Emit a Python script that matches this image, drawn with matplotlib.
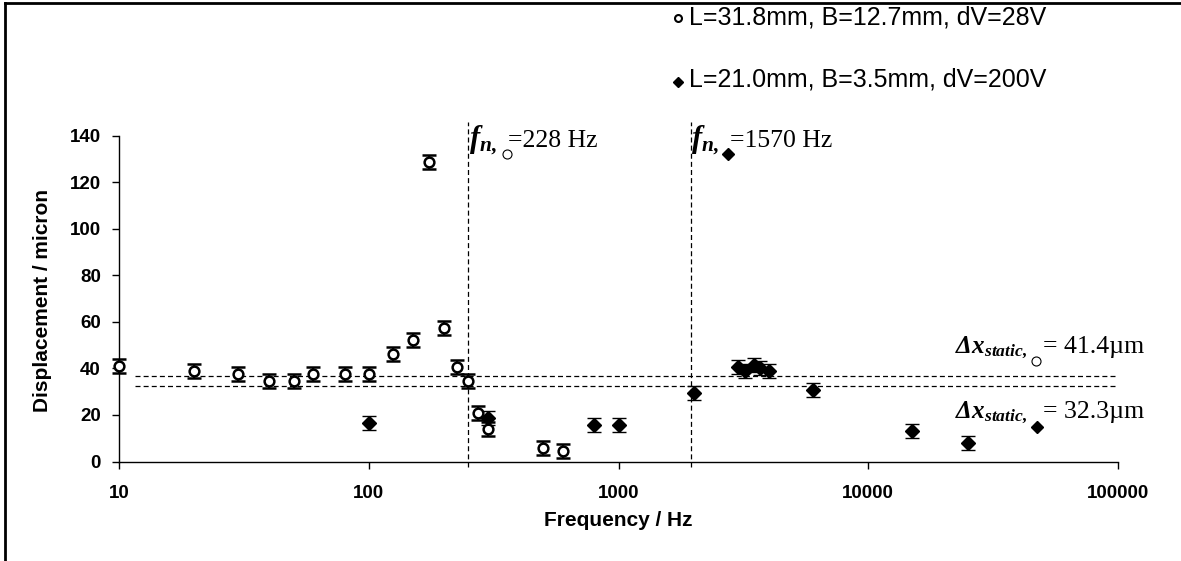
import matplotlib
matplotlib.use('Agg')
import matplotlib.pyplot as plt
from matplotlib.lines import Line2D

# ---- data ----
circ_freq = [10, 20, 30, 40, 50, 60, 80, 100, 125, 150, 175, 200, 225, 250, 275, 300, 500, 600]
circ_disp = [41.0, 39.0, 37.5, 34.5, 34.5, 37.5, 37.5, 37.5, 46.0, 52.0, 128.5, 57.5, 40.5, 34.5, 21.0, 14.0, 6.0, 4.5]
circ_err = [3.0] * len(circ_freq)

dia_freq = [100, 300, 800, 1000, 2000, 3000, 3200, 3500, 3700, 4000, 6000, 15000, 25000]
dia_disp = [16.5, 18.5, 15.5, 15.5, 29.5, 40.5, 39.0, 41.5, 40.0, 39.0, 30.5, 13.0, 8.0]
dia_err = [3.0] * len(dia_freq)

static_levels = [36.8, 32.3]
resonance_lines = [250, 1950]
x_ticks = [10, 100, 1000, 10000, 100000]
x_ticklabels = ['10', '100', '1000', '10000', '100000']
y_ticks = [0, 20, 40, 60, 80, 100, 120, 140]

legend_labels = ['L=31.8mm, B=12.7mm, dV=28V', 'L=21.0mm, B=3.5mm, dV=200V']

plt.rcParams.update({
    'font.family': ['Liberation Sans', 'DejaVu Sans'],
    'mathtext.fontset': 'custom',
    'mathtext.rm': 'Liberation Serif',
    'mathtext.it': 'Liberation Serif:italic',
    'mathtext.bf': 'Liberation Serif:bold',
    'mathtext.bfit': 'Liberation Serif:italic:bold',
})

W, H = 1181, 561
def fx(px):
    return px / W
def fy(py):
    return 1 - py / H

fig = plt.figure(figsize=(W / 100, H / 100), dpi=100)
ax = fig.add_axes([fx(119), fy(461.5), (1118 - 119) / W, (461.5 - 135.5) / H])

ax.set_xscale('log')
ax.set_xlim(10, 100000)
ax.set_ylim(0, 140)

# static displacement lines
for lv in static_levels:
    ax.plot([11.6, 100000], [lv, lv], ls=(0, (4, 2.5)), color='black', lw=0.9)
# resonance frequency lines
for fr in resonance_lines:
    ax.plot([fr, fr], [-2.5, 146], ls=(0, (4, 2.5)), color='black', lw=0.9, clip_on=False)

ax.errorbar(circ_freq, circ_disp, yerr=circ_err, fmt='o', ms=7, mfc='white', mec='black',
            mew=1.8, ecolor='black', elinewidth=1.5, capsize=5, capthick=2.2, zorder=3, clip_on=False)
ax.errorbar(dia_freq, dia_disp, yerr=dia_err, fmt='D', ms=7.5, mfc='black', mec='black',
            mew=1, ecolor='black', elinewidth=1.5, capsize=5, capthick=2.2, zorder=3, clip_on=False)

for s in ['top', 'right']:
    ax.spines[s].set_visible(False)
for s in ['left', 'bottom']:
    ax.spines[s].set_linewidth(1.0)

ax.set_xticks(x_ticks)
ax.set_xticklabels(x_ticklabels)
ax.xaxis.set_minor_locator(matplotlib.ticker.NullLocator())
ax.set_yticks(y_ticks)
ax.tick_params(axis='x', direction='out', length=5, width=1, pad=12, labelsize=13.5)
ax.tick_params(axis='y', direction='out', length=5, width=1, pad=8, labelsize=13.5)
for lab in ax.get_xticklabels() + ax.get_yticklabels():
    lab.set_fontweight('bold')

fig.text(fx(618), fy(521), 'Frequency / Hz', ha='center', va='center', fontsize=15, fontweight='bold')
fig.text(fx(43), fy(300), 'Displacement / micron', ha='center', va='center', rotation=90,
         fontsize=15, fontweight='bold')

# legend
fig.add_artist(Line2D([fx(678)], [fy(18)], marker='o', ms=5, mfc='white', mec='black', mew=1.5,
                      transform=fig.transFigure))
fig.add_artist(Line2D([fx(678)], [fy(82)], marker='D', ms=5.5, mfc='black', mec='black',
                      transform=fig.transFigure))
fig.text(fx(689), fy(17), legend_labels[0], va='center', fontsize=18)
fig.text(fx(689), fy(80), legend_labels[1], va='center', fontsize=18)

# annotations
def annot(x0, ybase, mathlabel, msize, marker, mx, my, tx, txt, size=18.5):
    fig.text(fx(x0), fy(ybase), mathlabel, va='baseline', fontsize=msize)
    if marker == 'o':
        fig.add_artist(Line2D([fx(mx)], [fy(my)], marker='o', ms=6.5, mfc='white', mec='black',
                              mew=0.8, transform=fig.transFigure))
    else:
        fig.add_artist(Line2D([fx(mx)], [fy(my)], marker='D', ms=6, mfc='black', mec='black',
                              transform=fig.transFigure))
    fig.text(fx(tx), fy(ybase), txt, va='baseline', fontsize=size, family='Liberation Serif')

annot(469, 147, r'$\mathbfit{f}_{\mathbfit{n,}}$', 22, 'o', 507, 154, 508, '=228 Hz')
annot(691, 147, r'$\mathbfit{f}_{\mathbfit{n,}}$', 22, 'D', 728, 154, 730, '=1570 Hz')
annot(955, 353, r'$\mathbfit{\Delta x}_{\mathbfit{static,}}$', 18, 'o', 1036, 361, 1043, '= 41.4\u00b5m')
annot(955, 418, r'$\mathbfit{\Delta x}_{\mathbfit{static,}}$', 18, 'D', 1037, 427, 1043, '= 32.3\u00b5m')

# outer frame (top and left)
fig.add_artist(Line2D([fx(5), 1.0], [fy(3), fy(3)], color='black', lw=2, transform=fig.transFigure))
fig.add_artist(Line2D([fx(5), fx(5)], [fy(3), 0.0], color='black', lw=2, transform=fig.transFigure))

fig.savefig('out.png', dpi=100)
